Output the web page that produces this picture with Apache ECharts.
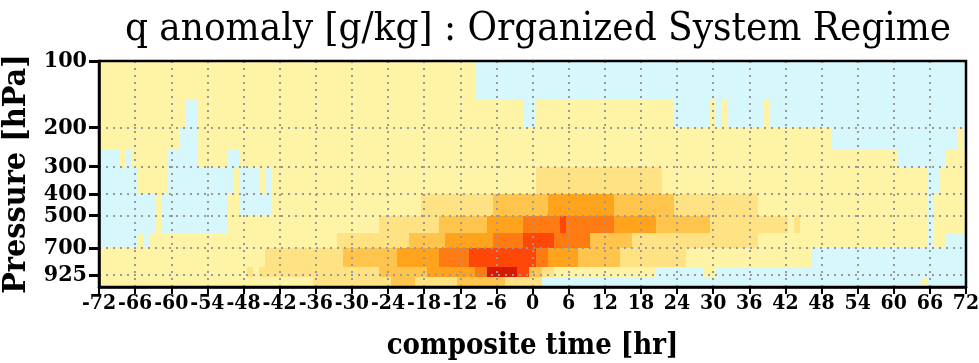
<!DOCTYPE html>
<html>
<head>
<meta charset="utf-8">
<script src="https://cdn.jsdelivr.net/npm/echarts@6/dist/echarts.min.js"></script>
<style>
  html, body { margin: 0; background: #fff; }
  #chart { width: 979px; height: 363px; }
</style>
</head>
<body>
<div id="chart"></div>
<script>
// pressure bands (hPa, top -> bottom) and the segments in each band:
// [start hr, end hr, q anomaly g/kg]
const bandEdges = [100, 150, 200, 250, 300, 400, 500, 600, 700, 850, 950, 1050];

const band100 = [[-72, -9.5, 0.1], [-9.5, 72, -0.1]];
const band150 = [[-72, -57.5, 0.1], [-57.5, -55.5, -0.1], [-55.5, -1.5, 0.1], [-1.5, 0.5, -0.1],
  [0.5, 23.5, 0.1], [23.5, 29.5, -0.1], [29.5, 30.5, 0.1], [30.5, 31.5, -0.1], [31.5, 32.5, 0.1],
  [32.5, 38.5, -0.1], [38.5, 39.5, 0.1], [39.5, 72, -0.1]];
const band200 = [[-72, -58.5, 0.1], [-58.5, -55.5, -0.1], [-55.5, 49.5, 0.1], [49.5, 70.5, -0.1],
  [70.5, 71.5, 0.1], [71.5, 72, -0.1]];
const band250 = [[-72, -68.5, -0.1], [-68.5, -67.5, 0.1], [-67.5, -66.5, -0.1], [-66.5, -60.5, 0.1],
  [-60.5, -55.5, -0.1], [-55.5, -50.5, 0.1], [-50.5, -48.5, -0.1], [-48.5, 60.5, 0.1],
  [60.5, 68.5, -0.1], [68.5, 72, 0.1]];
const band300 = [[-72, -65.5, -0.1], [-65.5, -60.5, 0.1], [-60.5, -49.5, -0.1], [-49.5, -48.5, 0.1],
  [-48.5, -45.5, -0.1], [-45.5, -44.5, 0.1], [-44.5, -43.5, -0.1], [-43.5, 0.5, 0.1],
  [0.5, 21.5, 0.3], [21.5, 65.5, 0.1], [65.5, 67.5, -0.1], [67.5, 72, 0.1]];
const band400 = [[-72, -62.5, -0.1], [-62.5, -61.5, 0.1], [-61.5, -50.5, -0.1], [-50.5, -48.5, 0.1],
  [-48.5, -43.5, -0.1], [-43.5, -18.5, 0.1], [-18.5, -6.5, 0.3], [-6.5, 2.5, 0.5], [2.5, 13.5, 0.7],
  [13.5, 23.5, 0.5], [23.5, 37.5, 0.3], [37.5, 65.5, 0.1], [65.5, 66.5, -0.1], [66.5, 72, 0.1]];
const band500 = [[-72, -62.5, -0.1], [-62.5, -61.5, 0.1], [-61.5, -50.5, -0.1], [-50.5, -25.5, 0.1],
  [-25.5, -15.5, 0.3], [-15.5, -7.5, 0.5], [-7.5, -1.5, 0.7], [-1.5, 4.5, 0.9], [4.5, 5.5, 1.1],
  [5.5, 13.5, 0.9], [13.5, 20.5, 0.7], [20.5, 29.5, 0.5], [29.5, 42.5, 0.3], [42.5, 43.5, 0.1],
  [43.5, 44.5, 0.3], [44.5, 65.5, 0.1], [65.5, 66.5, -0.1], [66.5, 72, 0.1]];
const band600 = [[-72, -65.5, -0.1], [-65.5, -64.5, 0.1], [-64.5, -63.5, -0.1], [-63.5, -32.5, 0.1],
  [-32.5, -20.5, 0.3], [-20.5, -14.5, 0.5], [-14.5, -6.5, 0.7], [-6.5, -1.5, 0.9], [-1.5, 3.5, 1.1],
  [3.5, 9.5, 0.9], [9.5, 16.5, 0.5], [16.5, 37.5, 0.3], [37.5, 65.5, 0.1], [65.5, 66.5, -0.1],
  [66.5, 68.5, 0.1], [68.5, 72, -0.1]];
const band700 = [[-72, -44.5, 0.1], [-44.5, -31.5, 0.3], [-31.5, -22.5, 0.5], [-22.5, -15.5, 0.7],
  [-15.5, -10.5, 0.9], [-10.5, 0.5, 1.1], [0.5, 2.5, 0.9], [2.5, 7.5, 0.7], [7.5, 14.5, 0.5],
  [14.5, 25.5, 0.3], [25.5, 46.5, 0.1], [46.5, 72, -0.1]];
const band850 = [[-72, -47.5, 0.1], [-47.5, -46.5, 0.3], [-46.5, -45.5, 0.1], [-45.5, -25.5, 0.3],
  [-25.5, -17.5, 0.5], [-17.5, -9.5, 0.7], [-9.5, -7.5, 0.9], [-7.5, -2.5, 1.3], [-2.5, -0.5, 1.1],
  [-0.5, 1.5, 0.5], [1.5, 3.5, 0.3], [3.5, 20.5, 0.1], [20.5, 28.5, -0.1], [28.5, 30.5, 0.1],
  [30.5, 72, -0.1]];
const band950 = [[-72, -36.5, 0.1], [-36.5, -23.5, 0.3], [-23.5, -19.5, 0.5], [-19.5, -12.5, 0.3],
  [-12.5, -4.5, 0.5], [-4.5, 1.5, 0.3], [1.5, 64.5, -0.1], [64.5, 65.5, 0.1], [65.5, 72, -0.1]];

const bands = [band100, band150, band200, band250, band300, band400, band500, band600,
  band700, band850, band950];

const pressureTicks = [100, 200, 300, 400, 500, 700, 925];

const serifFont = '"DejaVu Serif Condensed", "DejaVu Serif", serif';

// flatten into [t0, t1, pTop, pBottom, value]
const cells = [];
bands.forEach((segs, i) => {
  segs.forEach((s) => {
    cells.push([s[0], s[1], bandEdges[i], bandEdges[i + 1], s[2]]);
  });
});

const chart = echarts.init(document.getElementById('chart'));

function renderCell(params, api) {
  const a = api.coord([api.value(0), api.value(2)]);
  const b = api.coord([api.value(1), api.value(3)]);
  const x = Math.round(a[0]);
  const y = Math.round(a[1]);
  return {
    type: 'rect',
    shape: { x: x, y: y, width: Math.round(b[0]) - x, height: Math.round(b[1]) - y },
    style: { fill: api.visual('color') }
  };
}

const dotted = { color: '#999', width: 2, type: [2, 5] };

chart.setOption({
  animation: false,
  backgroundColor: '#fff',
  title: {
    text: 'q anomaly [g/kg] : Organized System Regime',
    left: 533,
    top: 5,
    textAlign: 'center',
    textStyle: { fontFamily: serifFont, fontSize: 40, fontWeight: 'normal', color: '#000' }
  },
  grid: {
    left: 99, right: 13, top: 61, bottom: 76,
    outerBoundsMode: 'none',
    containLabel: false,
    show: true, z: 10,
    backgroundColor: 'transparent',
    borderColor: '#000', borderWidth: 2.5
  },
  visualMap: {
    type: 'piecewise',
    show: false,
    dimension: 4,
    pieces: [
      { lt: 0, color: '#d6f8fd' },
      { gte: 0, lt: 0.2, color: '#fff4a6' },
      { gte: 0.2, lt: 0.4, color: '#ffe283' },
      { gte: 0.4, lt: 0.6, color: '#ffc44c' },
      { gte: 0.6, lt: 0.8, color: '#ffa21c' },
      { gte: 0.8, lt: 1.0, color: '#ff7a10' },
      { gte: 1.0, lt: 1.2, color: '#ff4808' },
      { gte: 1.2, color: '#d41a00' }
    ]
  },
  xAxis: {
    type: 'value',
    min: -72, max: 72, interval: 6,
    z: 5,
    name: 'composite time [hr]',
    nameLocation: 'middle',
    nameGap: 45,
    nameTextStyle: { fontFamily: serifFont, fontSize: 29, fontWeight: 'bold', color: '#000' },
    axisLine: { onZero: false, lineStyle: { color: '#000', width: 2.5 } },
    axisTick: { length: 7, lineStyle: { color: '#000', width: 2 } },
    axisLabel: {
      fontFamily: serifFont, fontSize: 21, fontWeight: 'bold', color: '#000', margin: 6,
      showMinLabel: true, showMaxLabel: true, hideOverlap: false
    },
    splitLine: { show: true, lineStyle: dotted }
  },
  yAxis: {
    type: 'log',
    logBase: 10,
    inverse: true,
    min: 100, max: 1050,
    z: 5,
    name: 'Pressure [hPa]',
    nameLocation: 'middle',
    nameGap: 50,
    nameTextStyle: { fontFamily: serifFont, fontSize: 32, fontWeight: 'bold', color: '#000' },
    axisLine: { onZero: false, lineStyle: { color: '#000', width: 2.5 } },
    axisTick: { length: 10, customValues: pressureTicks, lineStyle: { color: '#000', width: 3 } },
    axisLabel: {
      customValues: pressureTicks,
      fontFamily: serifFont, fontSize: 23, fontWeight: 'bold', color: '#000', margin: 12
    },
    splitLine: { show: true, lineStyle: dotted }
  },
  series: [{
    type: 'custom',
    renderItem: renderCell,
    encode: { x: [0, 1], y: [2, 3] },
    clip: true,
    data: cells
  }]
});
</script>
</body>
</html>
